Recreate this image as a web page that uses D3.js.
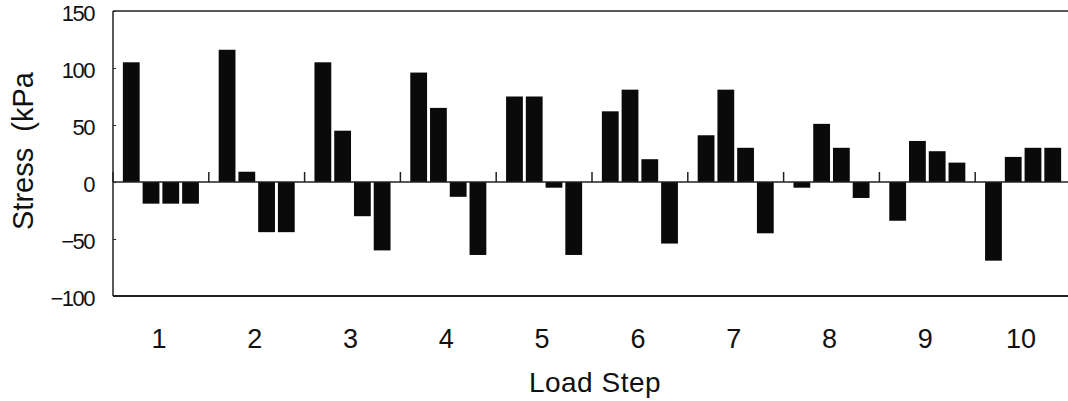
<!DOCTYPE html>
<html><head><meta charset="utf-8">
<script src="https://cdn.jsdelivr.net/npm/d3@7"></script>
<style>body{margin:0;background:#fff}svg{display:block}</style>
</head><body>
<svg id="chart" width="1068" height="401"></svg>
<script>
const steps = ["1","2","3","4","5","6","7","8","9","10"];
const seriesNames = ["s1","s2","s3","s4"];
const s1 = [105, 116, 105, 96, 75, 62, 41, -5, -34, -69];
const s2 = [-19, 9, 45, 65, 75, 81, 81, 51, 36, 22];
const s3 = [-19, -44, -30, -13, -5, 20, 30, 30, 27, 30];
const s4 = [-19, -44, -60, -64, -64, -54, -45, -14, 17, 30];
const yTicks = [150, 100, 50, 0, -50, -100];

const series = [s1, s2, s3, s4];
const svg = d3.select("#chart");
const L = 113, R = 1071, T = 11, B = 296;
const font = "'Liberation Sans', Arial, sans-serif";

const x0 = d3.scaleBand().domain(steps).range([L, R]).padding(0);
const x1 = d3.scaleBand().domain(seriesNames).range([0, x0.bandwidth()]).paddingInner(0.15).paddingOuter(0.5);
const y = d3.scaleLinear().domain([-100, 150]).range([B, T]);

// frame
svg.append("line").attr("x1", L).attr("x2", 1068).attr("y1", T).attr("y2", T).attr("stroke", "#222").attr("stroke-width", 1.5);
svg.append("line").attr("x1", L).attr("x2", 1068).attr("y1", B).attr("y2", B).attr("stroke", "#222").attr("stroke-width", 2);
svg.append("line").attr("x1", L).attr("x2", L).attr("y1", T).attr("y2", B).attr("stroke", "#222").attr("stroke-width", 1.5);

// bars
const g = svg.append("g");
steps.forEach((s, i) => {
  seriesNames.forEach((n, j) => {
    const v = series[j][i];
    g.append("rect")
      .attr("x", x0(s) + x1(n))
      .attr("width", x1.bandwidth())
      .attr("y", y(Math.max(0, v)))
      .attr("height", Math.abs(y(v) - y(0)))
      .attr("fill", "#0a0a0a");
  });
});

// zero axis with category dividers
svg.append("line").attr("x1", L).attr("x2", 1068).attr("y1", y(0)).attr("y2", y(0)).attr("stroke", "#222").attr("stroke-width", 1.5);
steps.forEach(s => {
  svg.append("line").attr("x1", x0(s)).attr("x2", x0(s)).attr("y1", y(0)).attr("y2", y(0) - 10).attr("stroke", "#222").attr("stroke-width", 1.5);
});

// y axis labels (small inward ticks)
const yAxis = d3.axisLeft(y).tickValues(yTicks).tickSize(-3).tickPadding(19).tickFormat(d => d < 0 ? "\u2212" + Math.abs(d) : d);
const ya = svg.append("g").attr("transform", `translate(${L},0)`).call(yAxis);
ya.select(".domain").remove();
ya.selectAll("line").attr("stroke", "#222");
ya.selectAll("text").attr("font-family", font).attr("font-size", 22).attr("fill", "#111")
  .attr("letter-spacing", "-1.5px").attr("dy", "0.45em");

// x axis labels
const xAxis = d3.axisBottom(x0).tickSize(0).tickPadding(0);
const xa = svg.append("g").attr("transform", `translate(-2,${348 - 0.71 * 27})`).call(xAxis);
xa.select(".domain").remove();
xa.selectAll("text").attr("font-family", font).attr("font-size", 27).attr("fill", "#111");

// titles
svg.append("text").attr("x", 595).attr("y", 392).attr("text-anchor", "middle")
  .attr("font-family", font).attr("font-size", 28).attr("fill", "#111").attr("letter-spacing", "0.5px").text("Load Step");
svg.append("text").attr("transform", "translate(33,151) rotate(-90)").attr("text-anchor", "middle")
  .attr("font-family", font).attr("font-size", 29).attr("fill", "#111")
  .style("white-space", "pre").text("Stress  (kPa");
</script>
</body></html>
